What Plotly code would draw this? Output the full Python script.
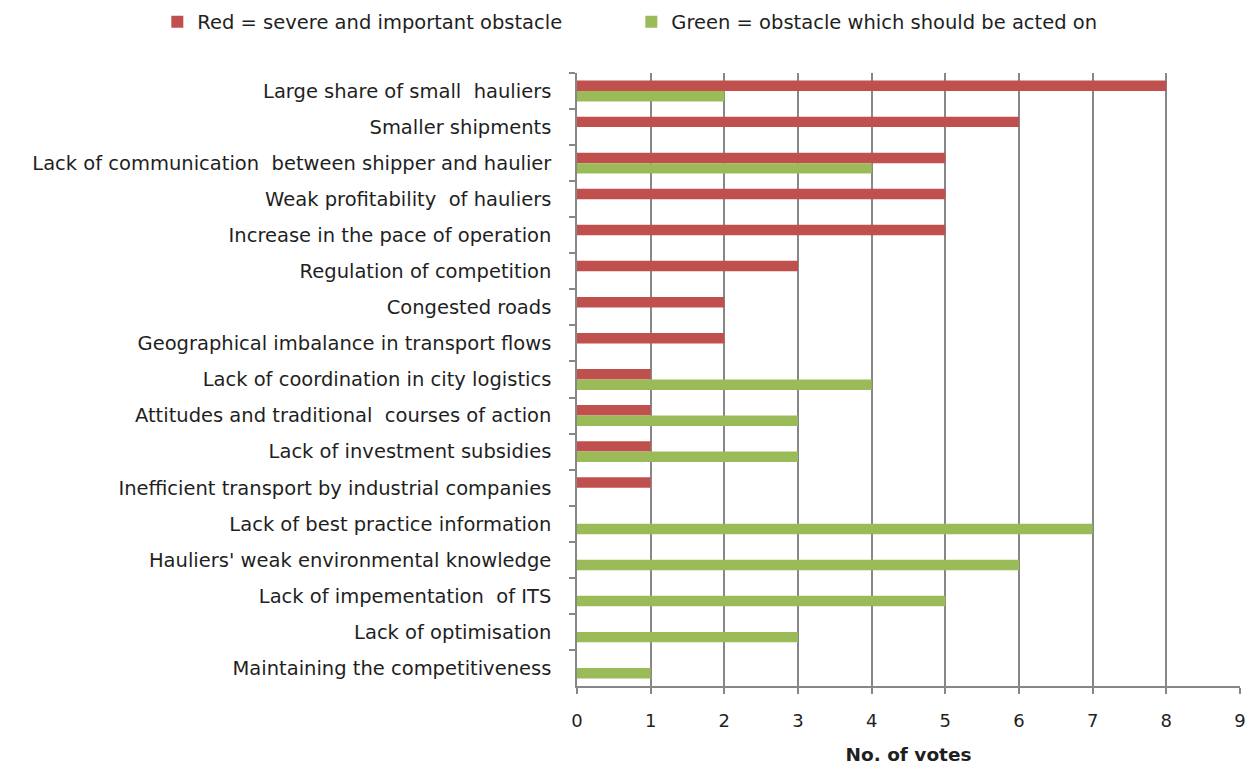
import plotly.graph_objects as go

categories = [
    "Large share of small  hauliers",
    "Smaller shipments",
    "Lack of communication  between shipper and haulier",
    "Weak profitability  of hauliers",
    "Increase in the pace of operation",
    "Regulation of competition",
    "Congested roads",
    "Geographical imbalance in transport flows",
    "Lack of coordination in city logistics",
    "Attitudes and traditional  courses of action",
    "Lack of investment subsidies",
    "Inefficient transport by industrial companies",
    "Lack of best practice information",
    "Hauliers' weak environmental knowledge",
    "Lack of impementation  of ITS",
    "Lack of optimisation",
    "Maintaining the competitiveness",
]
red_votes = [8, 6, 5, 5, 5, 3, 2, 2, 1, 1, 1, 1, 0, 0, 0, 0, 0]
green_votes = [2, 0, 4, 0, 0, 0, 0, 0, 4, 3, 3, 0, 7, 6, 5, 3, 1]
x_ticks = list(range(0, 10))

RED = "#C0504D"
GREEN = "#9BBB59"
GRID = "#878787"
TEXT = "#1f1f1f"
FONT = "DejaVu Sans"
SIZE = 19.5

fig = go.Figure()
fig.add_trace(go.Bar(
    y=categories, x=red_votes, orientation="h",
    name="Red = severe and important obstacle",
    marker=dict(color=RED, line=dict(width=0)),
))
fig.add_trace(go.Bar(
    y=categories, x=green_votes, orientation="h",
    name="Green = obstacle which should be acted on",
    marker=dict(color=GREEN, line=dict(width=0)),
))

fig.update_layout(
    width=1252, height=769,
    paper_bgcolor="white", plot_bgcolor="white",
    barmode="group", bargap=0.42, bargroupgap=0,
    margin=dict(l=577, r=12, t=73, b=83, autoexpand=False),
    font=dict(family=FONT, size=SIZE, color=TEXT),
    legend=dict(
        orientation="h", xref="paper", x=-0.633, xanchor="left",
        yref="paper", y=1.083, yanchor="middle",
        font=dict(family=FONT, size=SIZE, color=TEXT),
        itemwidth=30, traceorder="normal",
        entrywidth=429, entrywidthmode="pixels",
    ),
    showlegend=True,
)

fig.update_xaxes(
    range=[0, 9], tickvals=x_ticks, ticktext=[str(v) for v in x_ticks],
    showgrid=True, gridcolor=GRID, gridwidth=1.5,
    showline=True, linecolor=GRID, linewidth=1.5,
    ticks="outside", ticklen=6, tickcolor=GRID, tickwidth=1.5,
    zeroline=False, ticklabelstandoff=12,
    tickfont=dict(family=FONT, size=18, color=TEXT),
    title=dict(text="<b>No. of votes</b>", font=dict(family=FONT, size=18.5, color=TEXT),
               standoff=18),
)
fig.update_yaxes(
    autorange="reversed", type="category",
    showline=True, linecolor=GRID, linewidth=1.5,
    ticks="outside", ticklen=6, tickcolor=GRID, tickwidth=1.5,
    tickson="boundaries", showgrid=False,
    tickfont=dict(family=FONT, size=SIZE, color=TEXT),
    ticklabelstandoff=20,
)

fig.write_html("out.html")
